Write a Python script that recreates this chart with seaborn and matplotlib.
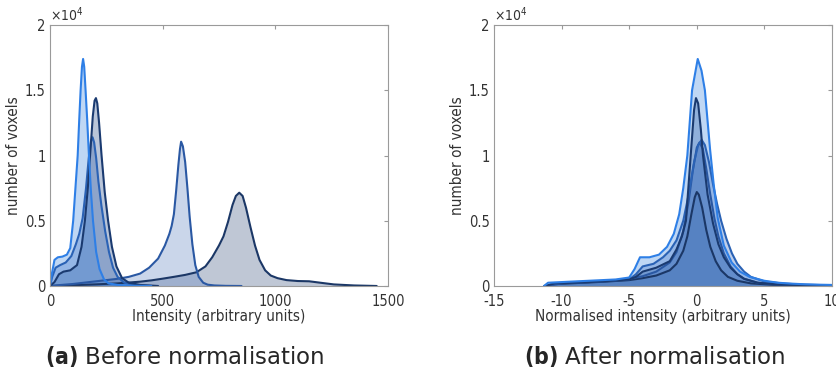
import matplotlib
matplotlib.use("Agg")
import matplotlib.pyplot as plt
import seaborn as sns

# histogram outlines (voxel counts)
# before normalisation, intensity in arbitrary units
raw1_x = [0, 8, 20, 35, 55, 75, 90, 103, 113, 123, 130, 136, 142, 147, 152, 158, 165, 173, 182, 191, 205, 220, 240, 260, 300, 360, 450]
raw1_y = [0, 900, 2000, 2200, 2250, 2400, 2900, 5000, 7500, 10000, 12800, 15000, 16800, 17400, 16800, 15000, 12800, 10000, 7200, 5000, 2600, 1300, 500, 200, 80, 20, 0]

raw2_x = [0, 20, 40, 60, 90, 120, 140, 155, 168, 180, 190, 198, 204, 210, 218, 229, 243, 258, 275, 295, 320, 350, 400, 480]
raw2_y = [0, 300, 900, 1100, 1200, 1600, 3000, 5000, 7500, 10500, 13000, 14200, 14400, 14000, 12500, 10000, 7200, 5000, 3000, 1500, 600, 250, 80, 0]

raw3_x = [0, 10, 25, 45, 70, 95, 115, 130, 145, 160, 172, 182, 189, 196, 205, 215, 228, 245, 262, 280, 300, 330, 380, 450]
raw3_y = [0, 700, 1400, 1600, 1800, 2300, 3200, 4000, 5200, 7500, 9800, 11100, 11400, 11000, 9800, 8000, 6200, 4200, 2600, 1400, 700, 250, 60, 0]

raw4_x = [0, 50, 100, 150, 200, 250, 300, 350, 400, 440, 480, 510, 530, 540, 550, 560, 570, 577, 582, 590, 600, 610, 620, 632, 645, 660, 680, 700, 730, 780, 850]
raw4_y = [0, 80, 150, 250, 350, 450, 550, 700, 950, 1400, 2100, 3100, 4000, 4600, 5500, 7300, 9300, 10500, 11060, 10700, 9500, 7500, 5300, 3200, 1600, 700, 250, 100, 40, 10, 0]

raw5_x = [0, 100, 200, 300, 400, 450, 500, 550, 600, 650, 690, 720, 750, 770, 790, 810, 825, 840, 855, 870, 890, 910, 930, 955, 980, 1010, 1050, 1100, 1150, 1200, 1260, 1350, 1450]
raw5_y = [0, 60, 120, 200, 330, 430, 560, 700, 850, 1050, 1500, 2200, 3100, 3800, 4900, 6200, 6900, 7150, 6900, 6000, 4500, 3100, 2000, 1200, 800, 600, 450, 380, 360, 250, 120, 40, 0]

# after normalisation
norm1_x = [-11.3, -11, -10, -9, -8, -7, -6, -5, -4.6, -4.2, -3.5, -2.8, -2.2, -1.7, -1.3, -1.0, -0.7, -0.35, 0.07, 0.35, 0.6, 0.98, 1.25, 1.55, 2.0, 2.58, 3.2, 3.9, 5, 6, 7, 8, 9, 10]
norm1_y = [0, 250, 300, 350, 400, 450, 500, 650, 1300, 2200, 2200, 2400, 3000, 4000, 5500, 7500, 10000, 15000, 17400, 16500, 15000, 10500, 7800, 5200, 3100, 1800, 1100, 700, 400, 250, 180, 130, 100, 80]

norm2_x = [-11.2, -10.5, -9, -7, -5, -4.5, -4, -3, -2, -1.5, -1.1, -0.8, -0.45, -0.2, -0.06, 0.1, 0.3, 0.46, 0.8, 1.2, 1.6, 2.0, 2.5, 3.0, 3.5, 4.5, 6, 8, 10]
norm2_y = [0, 200, 250, 350, 500, 700, 1100, 1400, 1900, 2800, 3800, 5000, 10000, 13500, 14400, 14000, 12000, 10000, 7000, 4800, 3200, 2200, 1400, 900, 550, 250, 120, 60, 30]

norm3_x = [-11.2, -10.5, -9, -7, -5, -4.5, -4.0, -3.2, -2.5, -2.0, -1.5, -1.0, -0.6, -0.2, 0.1, 0.36, 0.6, 0.9, 1.2, 1.5, 1.8, 2.2, 2.6, 3.0, 3.5, 4.0, 5, 6.5, 8, 10]
norm3_y = [0, 200, 260, 350, 500, 900, 1500, 1700, 2200, 2700, 3500, 5000, 7000, 9500, 10800, 11200, 10800, 9500, 7800, 6300, 5000, 3600, 2500, 1700, 1100, 700, 350, 180, 100, 50]

norm4_x = [-11, -10, -8, -6, -5, -4, -3, -2, -1.5, -1.0, -0.6, -0.3, 0, 0.2, 0.45, 0.7, 1.0, 1.3, 1.6, 2.0, 2.5, 3.0, 3.5, 4.5, 6, 8, 10]
norm4_y = [0, 200, 300, 450, 550, 750, 1100, 1800, 2600, 4200, 6500, 8800, 10600, 11000, 10500, 9000, 7000, 5200, 3800, 2500, 1500, 900, 550, 250, 120, 60, 30]

norm5_x = [-11.3, -10.5, -9, -7, -5, -4, -3, -2, -1.5, -1.0, -0.7, -0.4, -0.15, 0, 0.15, 0.4, 0.7, 1.0, 1.4, 1.8, 2.3, 3.0, 4.0, 5.5, 7, 10]
norm5_y = [0, 150, 220, 320, 450, 600, 800, 1200, 1700, 2700, 3800, 5500, 6800, 7200, 7000, 6000, 4300, 3000, 1900, 1200, 700, 400, 200, 100, 50, 20]

line_cols = ["#2e7fe6", "#1a3a70", "#2a62b5", "#2a58a3", "#1b3766"]
fill_cols = ["#3f87e0", "#2c4f8c", "#3a6bbd", "#5f83c0", "#3d5580"]

raw = [(raw1_x, raw1_y), (raw2_x, raw2_y), (raw3_x, raw3_y), (raw4_x, raw4_y), (raw5_x, raw5_y)]
norm = [(norm1_x, norm1_y), (norm2_x, norm2_y), (norm3_x, norm3_y), (norm4_x, norm4_y), (norm5_x, norm5_y)]

sns.set_style("white")
plt.rcParams['font.family'] = ['Liberation Sans Narrow', 'DejaVu Sans']
plt.rcParams['font.stretch'] = 'condensed'

fig = plt.figure(figsize=(8.37, 3.76), dpi=100)
ax1 = fig.add_axes([0.0597, 0.2394, 0.4038, 0.694])
ax2 = fig.add_axes([0.5902, 0.2394, 0.4038, 0.694])


def draw(ax, series, xlim, xticks, xlabel):
    for i in [4, 3, 2, 1, 0]:
        x, y = series[i]
        ax.fill_between(x, y, 0, color=fill_cols[i], alpha=0.33, lw=0)
        sns.lineplot(x=x, y=y, ax=ax, color=line_cols[i], lw=1.5, sort=False, estimator=None)
    ax.set_xlim(xlim)
    ax.set_ylim(0, 20000)
    ax.set_xticks(xticks)
    ax.set_xticklabels([str(t) for t in xticks])
    ax.set_yticks([0, 5000, 10000, 15000, 20000])
    ax.set_yticklabels(['0', '0.5', '1', '1.5', '2'])
    ax.tick_params(direction='in', length=3, top=True, right=True, labelsize=10.5,
                   colors='#999999', labelcolor='#333333', pad=3)
    ax.tick_params(axis='x', pad=5.5)
    for s in ax.spines.values():
        s.set_color('#9a9a9a')
        s.set_linewidth(0.8)
    ax.set_xlabel(xlabel, fontsize=11, color='#333333', labelpad=0)
    ax.set_ylabel('number of voxels', fontsize=11, color='#333333', labelpad=3)
    ax.text(0.0, 1.005, r'$\times10^4$', transform=ax.transAxes, fontsize=10,
            color='#333333', ha='left', va='bottom')


draw(ax1, raw, (0, 1500), [0, 500, 1000, 1500], 'Intensity (arbitrary units)')
draw(ax2, norm, (-15, 10), [-15, -10, -5, 0, 5, 10], 'Normalised intensity (arbitrary units)')

fig.text(185 / 837, 0.053, r'$\mathbf{(a)}$ Before normalisation', fontsize=16.5,
         ha='center', va='center', family='DejaVu Sans', stretch='normal')
fig.text(655 / 837, 0.053, r'$\mathbf{(b)}$ After normalisation', fontsize=16.5,
         ha='center', va='center', family='DejaVu Sans', stretch='normal')

fig.savefig('out.png', dpi=100)
